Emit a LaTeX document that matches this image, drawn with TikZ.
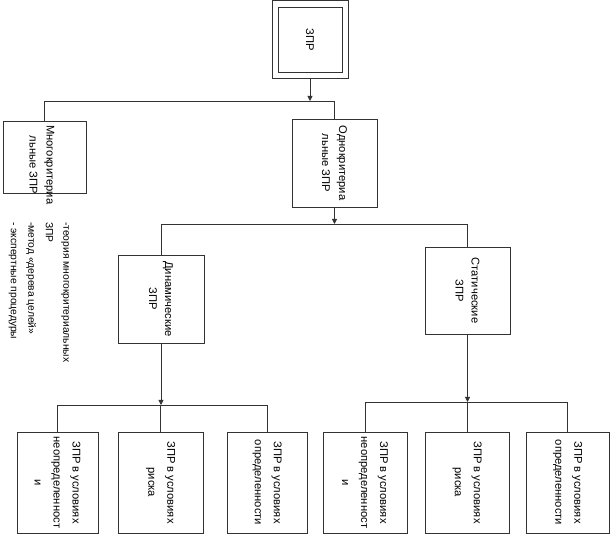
\documentclass[tikz,border=0pt]{standalone}
\usepackage{fontspec}
\setmainfont{Liberation Sans}
\usetikzlibrary{arrows.meta}
\tikzset{
	box/.style={draw=black!80, line width=0.8pt, rotate=-90, align=center, inner sep=0pt, font=\fontsize{11.2}{16}\selectfont},
	low/.style={box, minimum width=101pt, font=\fontsize{11.2}{19}\selectfont},
	bus/.style={draw=black!80, line width=0.8pt},
	arr/.style={bus, -{Triangle[length=5pt,width=5pt]}}
}
\begin{document}
\begin{tikzpicture}[x=1pt,y=-1pt]
	\useasboundingbox (0,0) rectangle (611,534);
	% boxes are turned: minimum width is the height on the page
	\node[box, minimum width=78pt, minimum height=76pt] at (310,39.5) (zpr) {};
	\node[box, minimum width=65pt, minimum height=64pt] at (310,39.5) (zprin) {ЗПР};
	\node[box, minimum width=72pt, minimum height=83pt] at (44.5,157) (mk) {};
	\node[rotate=-90, anchor=west, align=center, inner sep=0pt, font=\fontsize{11.2}{17}\selectfont] at (42,125) (mkt) {Многокритериа\\льные ЗПР};
	\node[box, minimum width=88pt, minimum height=85pt, font=\fontsize{11.2}{17}\selectfont] at (334.5,163) (ok) {Однокритериа\\льные ЗПР};
	\node[box, minimum width=88pt, minimum height=86pt] at (161,299) (dyn) {Динамические\\ЗПР};
	\node[box, minimum width=87pt, minimum height=85pt] at (467.5,290.5) (stat) {Статические\\ЗПР};
	%
	\node[low, minimum height=81pt] at (57.5,482.5) (nu1) {ЗПР в условиях\\неопределенност\\и};
	\node[low, minimum height=85pt] at (160.5,482.5) (r1) {ЗПР в условиях\\риска};
	\node[low, minimum height=80pt] at (267,482.5) (d1) {ЗПР в условиях\\определенности};
	\node[low, minimum height=84pt] at (365,482.5) (nu2) {ЗПР в условиях\\неопределенност\\и};
	\node[low, minimum height=84pt] at (467,482.5) (r2) {ЗПР в условиях\\риска};
	\node[low, minimum height=83pt] at (567.5,482.5) (d2) {ЗПР в условиях\\определенности};
	%
	\node[rotate=-90, anchor=north west, align=left, inner sep=0pt, font=\fontsize{10.3}{17.5}\selectfont] at (69,222) (lst) {-теория многокритериальных\\ЗПР\\-метод «дерева целей»\\- экспертные процедуры};
	% buses
	\coordinate (b1) at (0,101);
	\coordinate (b2) at (0,224);
	\coordinate (b3) at (0,405);
	\coordinate (b4) at (0,402);
	\draw[arr] (zpr.east) -- (zpr.east |- b1);
	\draw[bus] (mk.west) -- (mk.west |- b1) -| (ok.west);
	\draw[arr] (ok.east) -- (ok.east |- b2);
	\draw[bus] (dyn.west) -- (dyn.west |- b2) -| (stat.west);
	\draw[arr] (dyn.east) -- (dyn.east |- b3);
	\draw[bus] (nu1.west) -- (nu1.west |- b3) -| (d1.west);
	\draw[bus] (r1.west) -- (r1.west |- b3);
	\draw[arr] (stat.east) -- (stat.east |- b4);
	\draw[bus] (nu2.west) -- (nu2.west |- b4) -| (d2.west);
	\draw[bus] (r2.west) -- (r2.west |- b4);
\end{tikzpicture}
\end{document}
